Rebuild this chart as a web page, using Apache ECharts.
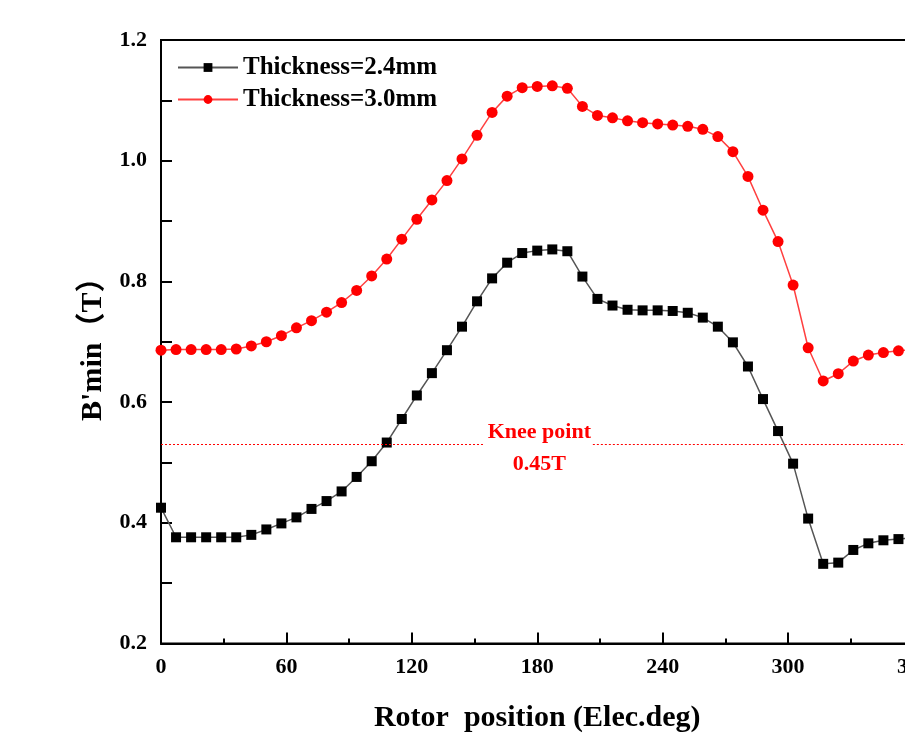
<!DOCTYPE html>
<html>
<head>
<meta charset="utf-8">
<script src="https://cdn.jsdelivr.net/npm/echarts@6/dist/echarts.min.js"></script>
<style>html,body{margin:0;padding:0;background:#fff;}#c{width:905px;height:734px;}</style>
</head>
<body>
<div id="c"></div>
<script>
var positions = [];
for (var i = 0; i <= 50; i++) positions.push(+(i * 7.2).toFixed(1));
var thick24 = [0.425,0.376,0.376,0.376,0.376,0.376,0.380,0.389,0.399,0.409,
  0.423,0.436,0.452,0.476,0.502,0.533,0.572,0.611,0.648,0.686,
  0.725,0.767,0.805,0.831,0.847,0.851,0.853,0.850,0.808,0.771,
  0.760,0.753,0.752,0.752,0.751,0.748,0.740,0.725,0.699,0.659,
  0.605,0.552,0.498,0.407,0.332,0.334,0.355,0.366,0.371,0.373,0.375];
var thick30 = [0.686,0.687,0.687,0.687,0.687,0.688,0.693,0.700,0.710,0.723,
  0.735,0.749,0.765,0.785,0.809,0.837,0.870,0.903,0.935,0.967,
  1.003,1.042,1.080,1.107,1.121,1.123,1.124,1.120,1.090,1.075,
  1.071,1.066,1.063,1.061,1.059,1.057,1.052,1.040,1.015,0.974,
  0.918,0.866,0.794,0.690,0.635,0.647,0.668,0.678,0.682,0.685,0.687];
var seriesNames = ['Thickness=2.4mm', 'Thickness=3.0mm'];
var kneeValue = 0.53;
var kneeLabel = 'Knee point\n0.45T';
var xTicks = [0, 60, 120, 180, 240, 300, 360];

var FONT = '"Liberation Serif", "Times New Roman", "Noto Sans CJK SC", serif';
function pairs(vals) { return vals.map(function (v, i) { return [positions[i], v]; }); }

var chart = echarts.init(document.getElementById('c'));
chart.setOption({
  animation: false,
  backgroundColor: '#fff',
  grid: { left: 161, top: 40, bottom: 90.5, right: -8.5, outerBoundsMode: 'none', containLabel: false,
    show: true, borderColor: '#000', borderWidth: 2 },
  legend: {
    orient: 'vertical', left: 172, top: 50, itemWidth: 60, itemHeight: 11, itemGap: 7,
    textStyle: { fontFamily: FONT, fontWeight: 'bold', fontSize: 25, color: '#000' },
    data: seriesNames
  },
  xAxis: {
    type: 'value', min: xTicks[0], max: xTicks[xTicks.length - 1], interval: 60,
    name: 'Rotor  position (Elec.deg)', nameLocation: 'middle', nameGap: 60,
    nameTextStyle: { fontFamily: FONT, fontWeight: 'bold', fontSize: 30, color: '#000' },
    axisLine: { lineStyle: { color: '#000', width: 2 } },
    axisTick: { inside: true, length: 11, lineStyle: { color: '#000', width: 2 } },
    minorTick: { show: true, splitNumber: 2, length: 5, lineStyle: { color: '#000', width: 2 } },
    splitLine: { show: false },
    axisLabel: { fontFamily: FONT, fontWeight: 'bold', fontSize: 22, color: '#000', margin: 13 }
  },
  yAxis: {
    type: 'value', min: 0.2, max: 1.2, interval: 0.2,
    name: "B'min（T）", nameLocation: 'middle', nameGap: 52, nameRotate: 90,
    nameTextStyle: { fontFamily: FONT, fontWeight: 'bold', fontSize: 30, color: '#000' },
    axisLine: { lineStyle: { color: '#000', width: 2 } },
    axisTick: { inside: true, length: 11, lineStyle: { color: '#000', width: 2 } },
    minorTick: { show: true, splitNumber: 2, length: 11, lineStyle: { color: '#000', width: 2 } },
    splitLine: { show: false },
    axisLabel: { fontFamily: FONT, fontWeight: 'bold', fontSize: 22, color: '#000', margin: 14,
      formatter: function (v) { return v.toFixed(1); } }
  },
  series: [
    {
      name: seriesNames[0], type: 'line', data: pairs(thick24),
      symbol: 'rect', symbolSize: 10,
      itemStyle: { color: '#000' },
      lineStyle: { color: '#555', width: 1.5 },
      markLine: {
        silent: true, symbol: 'none', label: { show: false },
        lineStyle: { color: '#ff0000', type: [2, 2], width: 1.2 },
        data: [
          [{ coord: [0, kneeValue] }, { coord: [154.7, kneeValue] }],
          [{ coord: [206.6, kneeValue] }, { coord: [360, kneeValue] }]
        ]
      },
      markPoint: {
        silent: true, symbol: 'circle', symbolSize: 0,
        data: [{ coord: [181, kneeValue], value: 0 }],
        label: { show: true, position: 'inside', formatter: kneeLabel, color: '#ff0000', offset: [0, 4],
          fontFamily: FONT, fontWeight: 'bold', fontSize: 22, lineHeight: 32 }
      }
    },
    {
      name: seriesNames[1], type: 'line', data: pairs(thick30),
      symbol: 'circle', symbolSize: 11,
      itemStyle: { color: '#ff0000' },
      lineStyle: { color: '#ff4040', width: 1.5 }
    }
  ]
});
</script>
</body>
</html>
